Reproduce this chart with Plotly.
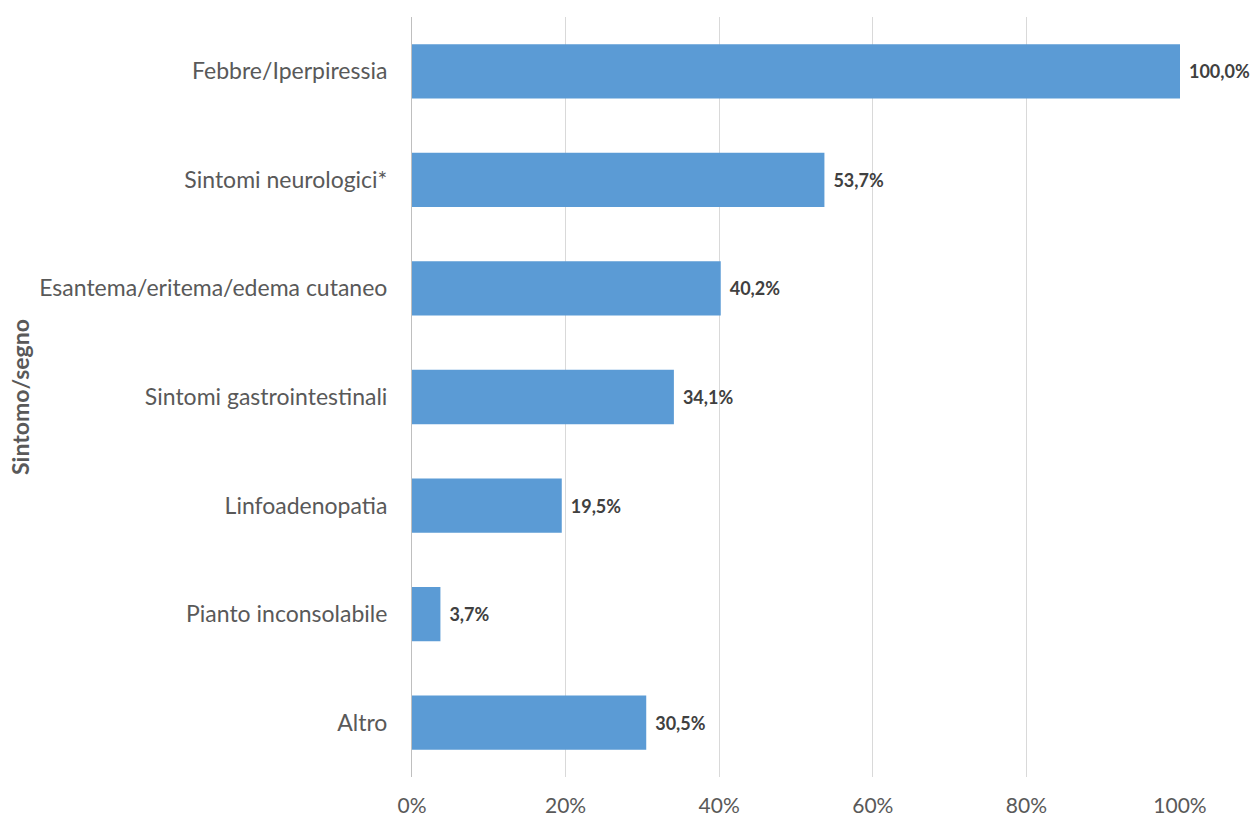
import plotly.graph_objects as go

categories = [
    "Febbre/Iperpiressia",
    "Sintomi neurologici*",
    "Esantema/eritema/edema cutaneo",
    "Sintomi gastrointestinali",
    "Linfoadenopatia",
    "Pianto inconsolabile",
    "Altro",
]
percent = [100.0, 53.7, 40.2, 34.1, 19.5, 3.7, 30.5]
x_ticks = [0, 0.2, 0.4, 0.6, 0.8, 1.0]

share = [p / 100 for p in percent]

fig = go.Figure(
    go.Bar(
        x=share,
        y=categories,
        orientation="h",
        marker=dict(color="#5B9BD5", line=dict(width=0)),
        texttemplate="\u2004%{x:.1%}",
        textposition="outside",
        textfont=dict(family="Lato", size=18, color="#404040", weight="bold"),
        cliponaxis=False,
        hoverinfo="skip",
    )
)

fig.update_layout(
    width=1255,
    height=820,
    margin=dict(l=412, r=75, t=17, b=43),
    paper_bgcolor="white",
    plot_bgcolor="white",
    separators=",.",
    bargap=0.5,
    showlegend=False,
    font=dict(family="Lato", color="#595959"),
    xaxis=dict(
        range=[0, 1],
        tickvals=x_ticks,
        tickformat=".0%",
        showgrid=True,
        gridcolor="#D9D9D9",
        gridwidth=1,
        zeroline=False,
        showline=False,
        ticks="",
        tickfont=dict(size=21, color="#595959"),
        ticklabelstandoff=14,
        automargin=False,
        fixedrange=True,
    ),
    yaxis=dict(
        categoryorder="array",
        categoryarray=categories[::-1],
        showline=True,
        linecolor="#BFBFBF",
        linewidth=1,
        showgrid=False,
        ticks="",
        tickfont=dict(size=23, color="#595959"),
        ticklabelstandoff=19,
        automargin=False,
        fixedrange=True,
    ),
    annotations=[
        dict(
            text="Sintomo/segno",
            xref="paper",
            yref="paper",
            x=-412 / 768 + 20 / 768,
            y=0.5,
            xanchor="center",
            yanchor="middle",
            textangle=-90,
            showarrow=False,
            font=dict(family="Lato", size=23, color="#595959", weight="bold"),
        )
    ],
)

fig.write_html("out.html")
